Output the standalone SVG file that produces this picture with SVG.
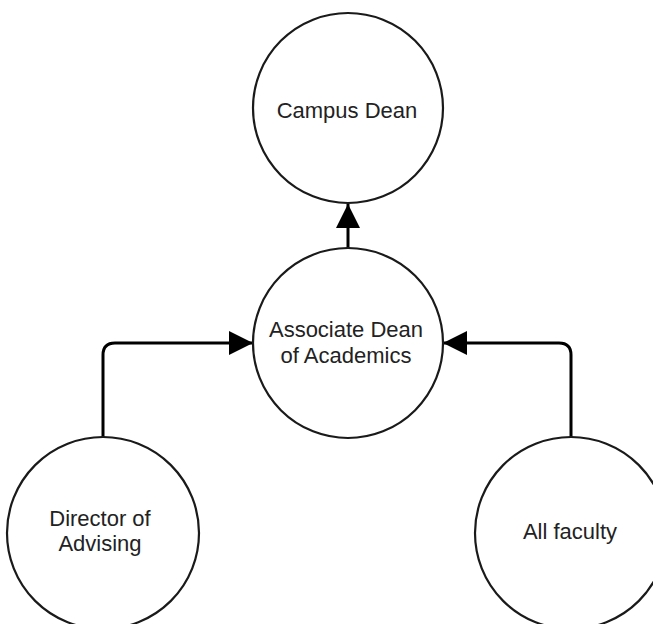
<svg xmlns="http://www.w3.org/2000/svg" width="653" height="624" viewBox="0 0 653 624">
<defs>
<style>
.node{fill:#fff;stroke:#1a1a1a;stroke-width:2.2}
.lbl{font-family:"Liberation Sans",Arial,sans-serif;font-size:22px;fill:#222;text-anchor:middle}
.edge{fill:none;stroke:#000;stroke-width:3}
</style>
<marker id="arr" viewBox="0 0 24 24" refX="24" refY="12" markerWidth="24" markerHeight="24" markerUnits="userSpaceOnUse" orient="auto">
<path d="M0,0 L24,12 L0,24 Z" fill="#000"/>
</marker>
</defs>
<rect width="653" height="624" fill="#fff"/>
<g id="connectors">
<path class="edge" d="M348,248 L348,204" marker-end="url(#arr)"/>
<path class="edge" d="M103,437 L103,355 Q103,343 115,343 L253,343" marker-end="url(#arr)"/>
<path class="edge" d="M571,437 L571,355 Q571,343 559,343 L443,343" marker-end="url(#arr)"/>
</g>
<g id="campus-dean">
<circle class="node" cx="348" cy="108" r="95"/>
<text class="lbl" x="347" y="118">Campus Dean</text>
</g>
<g id="associate-dean">
<circle class="node" cx="348" cy="343" r="95"/>
<text class="lbl" x="346" y="337">Associate Dean</text>
<text class="lbl" x="346" y="363">of Academics</text>
</g>
<g id="director-advising">
<circle class="node" cx="103" cy="533" r="96"/>
<text class="lbl" x="100" y="526">Director of</text>
<text class="lbl" x="100" y="551">Advising</text>
</g>
<g id="all-faculty">
<circle class="node" cx="571" cy="533" r="96"/>
<text class="lbl" x="570" y="539">All faculty</text>
</g>
</svg>
